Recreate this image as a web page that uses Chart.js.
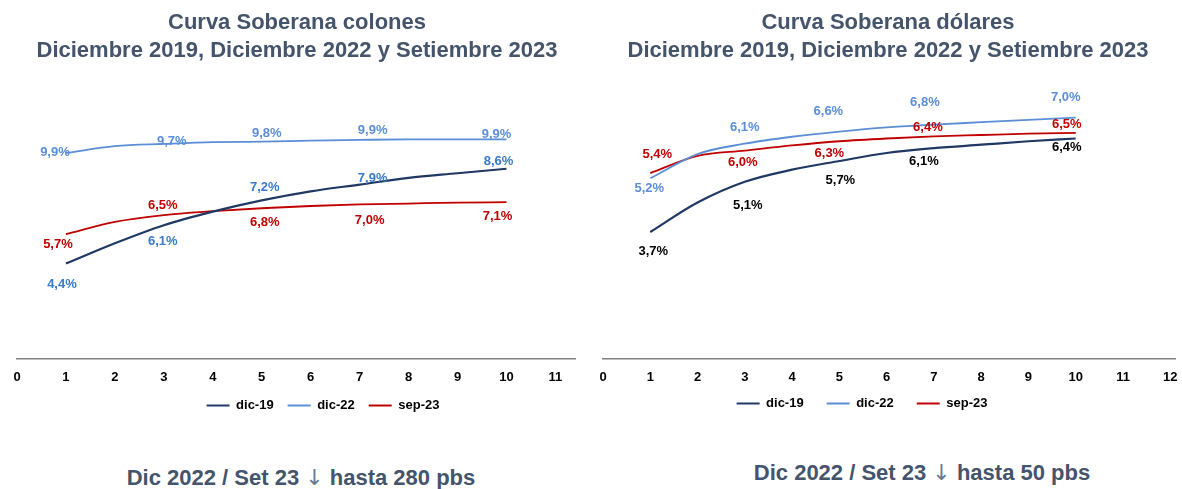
<!DOCTYPE html>
<html>
    <head>
        <meta charset="utf-8">
        <title>Curva Soberana</title>
        <script src="https://cdn.jsdelivr.net/npm/chart.js@4.4.0/dist/chart.umd.min.js"></script>
        <style>
            body {
                margin: 0;
                background: #fff;
                font-family: 'Liberation Sans', Arial, sans-serif;
            }
            #wrap {
                position: relative;
                width: 1182px;
                height: 489px;
                overflow: hidden;
            }
            .titulo {
                position: absolute;
                top: 8px;
                width: 600px;
                text-align: center;
                font-weight: bold;
                font-size: 22px;
                line-height: 28px;
                color: #44546A;
            }
            .nota {
                position: absolute;
                width: 600px;
                text-align: center;
                font-weight: bold;
                font-size: 22px;
                line-height: 24px;
                color: #44546A;
            }
            .flecha {
                font-family: 'DejaVu Sans', sans-serif;
                font-weight: normal;
                color: #6b7a90;
            }
            .caja {
                position: absolute;
                top: 0;
                width: 591px;
                height: 440px;
            }
        </style>
    </head>
    <body>
        <div id="wrap">
            <div class="caja" style="left:0"><canvas id="colones"></canvas></div>
            <div class="caja" style="left:591px"><canvas id="dolares"></canvas></div>
            <div class="titulo" style="left:-3px">Curva Soberana colones<br>Diciembre 2019, Diciembre 2022 y Setiembre 2023</div>
            <div class="titulo" style="left:588px">Curva Soberana dólares<br>Diciembre 2019, Diciembre 2022 y Setiembre 2023</div>
            <div class="nota" style="left:1px; top:466px">Dic 2022 / Set 23 <span class="flecha">↓</span> hasta 280 pbs</div>
            <div class="nota" style="left:622px; top:461px">Dic 2022 / Set 23 <span class="flecha">↓</span> hasta 50 pbs</div>
        </div>
        <script>
            // plazos en años
            var plazos = [1, 2, 3, 4, 5, 6, 7, 8, 9, 10];
            var series = ['dic-19', 'dic-22', 'sep-23'];

            // curva colones (%)
            var colDic19 = [4.4, 5.3, 6.1, 6.7, 7.2, 7.6, 7.9, 8.2, 8.4, 8.6];
            var colDic22 = [9.3, 9.6, 9.7, 9.78, 9.8, 9.85, 9.88, 9.9, 9.9, 9.9];
            var colSep23 = [5.7, 6.25, 6.55, 6.72, 6.85, 6.95, 7.02, 7.06, 7.1, 7.12];

            // curva dolares (%)
            var usdDic19 = [3.7, 4.55, 5.15, 5.5, 5.75, 5.98, 6.12, 6.22, 6.32, 6.4];
            var usdDic22 = [5.25, 5.95, 6.25, 6.45, 6.6, 6.72, 6.8, 6.87, 6.94, 7.0];
            var usdSep23 = [5.4, 5.9, 6.05, 6.2, 6.32, 6.4, 6.46, 6.5, 6.54, 6.56];

            // etiquetas en los plazos 1, 3, 5, 7 y 10
            var plazosEtiqueta = [1, 3, 5, 7, 10];
            var etqColDic19 = ['4,4%', '6,1%', '7,2%', '7,9%', '8,6%'];
            var etqColDic22 = ['9,9%', '9,7%', '9,8%', '9,9%', '9,9%'];
            var etqColSep23 = ['5,7%', '6,5%', '6,8%', '7,0%', '7,1%'];
            var etqUsdDic19 = ['3,7%', '5,1%', '5,7%', '6,1%', '6,4%'];
            var etqUsdDic22 = ['5,2%', '6,1%', '6,6%', '6,8%', '7,0%'];
            var etqUsdSep23 = ['5,4%', '6,0%', '6,3%', '6,4%', '6,5%'];

            var azulOscuro = '#1F3864';
            var azulClaro = '#5B8ED6';
            var rojo = '#C00000';
            var fuente = "'Liberation Sans', Arial, sans-serif";

            function puntos(valores) {
                return plazos.map(function(p, i) { return {x: p, y: valores[i]}; });
            }

            function serie(nombre, valores, color, ancho, etiquetas, colorEtq, desplaz) {
                return {
                    label: nombre,
                    data: puntos(valores),
                    borderColor: color,
                    backgroundColor: color,
                    borderWidth: ancho,
                    pointRadius: 0,
                    cubicInterpolationMode: 'monotone',
                    etiquetas: etiquetas,
                    colorEtq: colorEtq,
                    desplaz: desplaz
                };
            }

            // dibuja los porcentajes junto a la curva
            var pluginEtiquetas = {
                id: 'etiquetas',
                afterDatasetsDraw: function(chart) {
                    var ctx = chart.ctx;
                    var sx = chart.scales.x, sy = chart.scales.y;
                    ctx.save();
                    ctx.font = 'bold 13px ' + fuente;
                    ctx.textAlign = 'center';
                    ctx.textBaseline = 'middle';
                    chart.data.datasets.forEach(function(ds) {
                        ds.etiquetas.forEach(function(txt, j) {
                            var p = plazosEtiqueta[j];
                            var punto = ds.data[plazos.indexOf(p)];
                            ctx.fillStyle = ds.colorEtq;
                            ctx.fillText(txt, sx.getPixelForValue(punto.x) + ds.desplaz[j][0],
                                sy.getPixelForValue(punto.y) + ds.desplaz[j][1]);
                        });
                    });
                    ctx.restore();
                }
            };

            // mueve la leyenda (no queda centrada en el original)
            var pluginMoverLeyenda = {
                id: 'moverLeyenda',
                afterLayout: function(chart, args, opts) {
                    var l = chart.legend;
                    l.left += opts.dx; l.right += opts.dx;
                    l.top += opts.dy; l.bottom += opts.dy;
                }
            };

            function opciones(xMax, yMin, yMax, pad, leyPad, mover) {
                return {
                    responsive: true,
                    maintainAspectRatio: false,
                    animation: false,
                    layout: {padding: pad},
                    scales: {
                        x: {
                            type: 'linear',
                            min: 0,
                            max: xMax,
                            grid: {display: false, drawTicks: true, tickLength: 11},
                            border: {display: true, color: '#808080', width: 1.5},
                            ticks: {
                                stepSize: 1,
                                includeBounds: false,
                                padding: 0,
                                color: '#000',
                                font: {family: fuente, size: 13, weight: 'bold'}
                            }
                        },
                        y: {display: false, min: yMin, max: yMax}
                    },
                    plugins: {
                        title: {display: false},
                        tooltip: {enabled: false},
                        legend: {
                            position: 'bottom',
                            labels: {
                                boxWidth: 23,
                                boxHeight: 2,
                                padding: leyPad,
                                color: '#000',
                                font: {family: fuente, size: 13, weight: 'bold'},
                                generateLabels: function(chart) {
                                    return Chart.defaults.plugins.legend.labels.generateLabels(chart).map(function(it) {
                                        it.lineWidth = 0;
                                        it.fillStyle = it.strokeStyle;
                                        return it;
                                    });
                                }
                            }
                        },
                        moverLeyenda: mover
                    }
                };
            }

            new Chart(document.getElementById('colones'), {
                type: 'line',
                data: {
                    datasets: [
                        serie(series[0], colDic19, azulOscuro, 2.2, etqColDic19, '#3A7BC8',
                            [[-4, 21], [-1, 16], [3, -13], [13, -6], [-8, -7]]),
                        serie(series[1], colDic22, azulClaro, 1.8, etqColDic22, azulClaro,
                            [[-11, -1], [8, -3], [5, -8], [13, -9], [-10, -5]]),
                        serie(series[2], colSep23, rojo, 1.8, etqColSep23, rojo,
                            [[-8, 10], [-1, -10], [3, 14], [10, 16], [-9, 14]])
                    ]
                },
                options: opciones(11.4, 0.2, 12, {top: 92, left: 17, right: 16, bottom: 18}, 14, {dx: 27, dy: 0}),
                plugins: [pluginEtiquetas, pluginMoverLeyenda]
            });

            new Chart(document.getElementById('dolares'), {
                type: 'line',
                data: {
                    datasets: [
                        serie(series[0], usdDic19, azulOscuro, 2.2, etqUsdDic19, '#000',
                            [[3, 19], [3, 24], [1, 19], [-10, 13], [-9, 9]]),
                        serie(series[1], usdDic22, azulClaro, 1.8, etqUsdDic22, azulClaro,
                            [[-1, 10], [0, -16], [-11, -20], [-9, -22], [-10, -20]]),
                        serie(series[2], usdSep23, rojo, 1.8, etqUsdSep23, rojo,
                            [[7, -19], [-2, 12], [-10, 12], [-6, -9], [-9, -9]])
                    ]
                },
                options: opciones(12.1, 0.05, 7.8, {top: 90, left: 12, right: 7, bottom: 9}, 23, {dx: -27, dy: -11}),
                plugins: [pluginEtiquetas, pluginMoverLeyenda]
            });
        </script>
    </body>
</html>
